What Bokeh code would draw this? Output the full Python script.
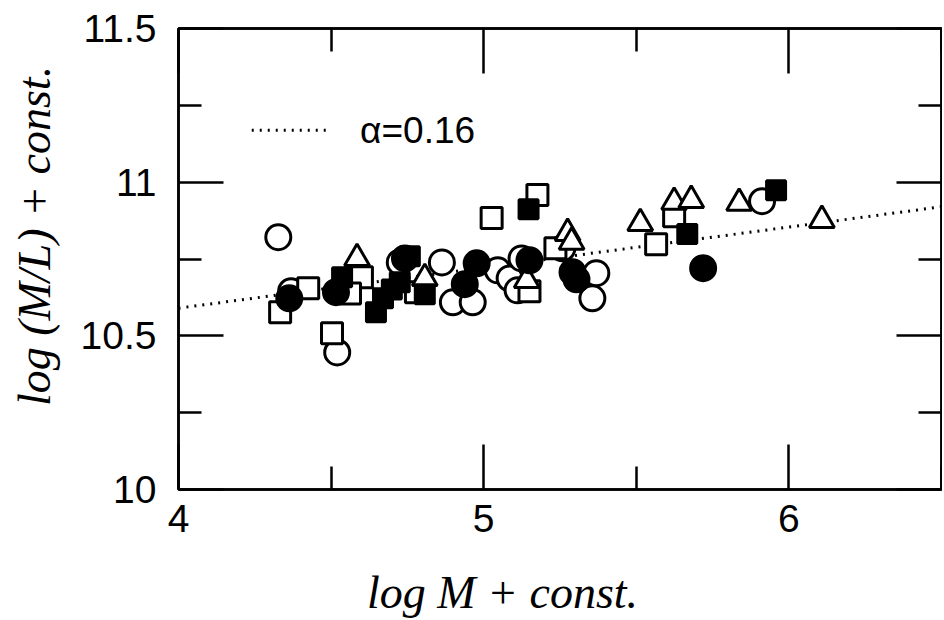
import numpy as np
from bokeh.plotting import figure
from bokeh.models import FixedTicker, LinearAxis, Label, Range1d, CustomJSTickFormatter
from bokeh.embed import file_html
from bokeh.resources import INLINE

# ---- data (log M + const., log(M/L) + const.) ----
open_circle_x = [4.327, 4.369, 4.520, 4.725, 4.863, 4.899, 4.964, 5.046, 5.085, 5.124, 5.111, 5.258, 5.369, 5.356, 5.912]
open_circle_y = [10.821, 10.645, 10.446, 10.739, 10.739, 10.609, 10.609, 10.713, 10.687, 10.752, 10.648, 10.785, 10.704, 10.622, 10.938]

filled_circle_x = [4.363, 4.516, 4.742, 4.938, 4.977, 5.150, 5.291, 5.304, 5.719]
filled_circle_y = [10.622, 10.642, 10.752, 10.668, 10.736, 10.746, 10.707, 10.684, 10.720]

open_square_x = [4.333, 4.425, 4.503, 4.601, 4.562, 4.778, 5.026, 5.176, 5.150, 5.235, 5.565, 5.624]
open_square_y = [10.577, 10.655, 10.508, 10.691, 10.638, 10.642, 10.883, 10.958, 10.645, 10.785, 10.798, 10.889]

filled_square_x = [4.536, 4.647, 4.670, 4.699, 4.725, 4.807, 5.147, 5.667, 5.958, 4.758]
filled_square_y = [10.691, 10.577, 10.622, 10.651, 10.674, 10.635, 10.912, 10.831, 10.974, 10.759]

open_triangle_x = [4.585, 4.807, 5.141, 5.275, 5.288, 5.513, 5.624, 5.680, 5.837, 6.108]
open_triangle_y = [10.752, 10.687, 10.681, 10.834, 10.805, 10.866, 10.935, 10.941, 10.932, 10.876]

fit_x = [4.0, 6.5]
fit_y = [10.59, 10.92]

legend_line_x = [4.24, 4.50]
legend_line_y = [11.169, 11.169]
legend_text = "α=0.16"
legend_text_pos = (4.595, 11.169)

x_ticks = [4, 5, 6]
x_minor = [4.5, 5.5, 6.5]
x_tick_labels = ["4", "5", "6"]
y_ticks = [10, 10.5, 11, 11.5]
y_minor = [10.25, 10.75, 11.25]
y_tick_labels = ["10", "10.5", "11", "11.5"]

x_title = "log M + const."
y_title = "log (M/L) + const."

# ---- figure ----
p = figure(width=942, height=620, x_range=Range1d(4, 6.5), y_range=Range1d(10, 11.5),
           output_backend="svg", toolbar_location=None,
           min_border_left=178, min_border_right=1, min_border_top=28, min_border_bottom=131)
p.background_fill_color = "white"
p.border_fill_color = "white"
p.outline_line_color = "black"
p.outline_line_width = 2.5
p.xgrid.visible = False
p.ygrid.visible = False

TICK_FONT = "Liberation Sans"
NBSP = "\u00a0"

xax = p.below[0]
yax = p.left[0]

def style_axis(ax, ticks, minor, labels, show_labels):
    ax.ticker = FixedTicker(ticks=ticks, minor_ticks=minor)
    ax.major_tick_in = 45
    ax.major_tick_out = 0
    ax.minor_tick_in = 23
    ax.minor_tick_out = 0
    ax.major_tick_line_width = 2.5
    ax.minor_tick_line_width = 2.5
    ax.major_tick_line_color = "black"
    ax.minor_tick_line_color = "black"
    ax.axis_line_color = "black"
    ax.axis_line_width = 2.5
    if show_labels:
        ax.major_label_overrides = {t: l for t, l in zip(ticks, labels)}
        ax.major_label_text_font = TICK_FONT
        ax.major_label_text_font_size = "39px"
        ax.major_label_text_color = "black"
    else:
        ax.formatter = CustomJSTickFormatter(code="return '';")
        ax.major_label_text_font_size = "8px"
        ax.major_label_standoff = 0

style_axis(xax, x_ticks, x_minor, x_tick_labels, True)
style_axis(yax, y_ticks, y_minor, y_tick_labels, True)
xax.major_label_standoff = 15
yax.major_label_standoff = 22

top_ax = LinearAxis()
style_axis(top_ax, x_ticks, x_minor, x_tick_labels, False)
p.add_layout(top_ax, "above")
right_ax = LinearAxis()
style_axis(right_ax, y_ticks, y_minor, y_tick_labels, False)
p.add_layout(right_ax, "right")

# axis titles (non-breaking padding shifts them off-centre like the original)
for ax in (xax, yax):
    ax.axis_label_text_font = "Liberation Serif"
    ax.axis_label_text_font_style = "italic"
    ax.axis_label_text_font_size = "46px"
    ax.axis_label_text_color = "black"
xax.axis_label = x_title + NBSP * 10
xax.axis_label_standoff = 32
yax.axis_label = NBSP * 4 + y_title
yax.axis_label_standoff = 18

# fit line and legend sample
p.line(fit_x, fit_y, line_color="black", line_width=3, line_dash="2 6")
p.line(legend_line_x, legend_line_y, line_color="black", line_width=3, line_dash="2 6")
p.add_layout(Label(x=legend_text_pos[0], y=legend_text_pos[1], text=legend_text,
                   text_font=TICK_FONT, text_font_size="37px", text_baseline="middle",
                   text_align="left", text_color="black"))

LW = 3
p.scatter(open_circle_x, open_circle_y, marker="circle", size=25, fill_color="white",
          line_color="black", line_width=LW)
p.scatter(open_square_x, open_square_y, marker="square", size=21, fill_color="white",
          line_color="black", line_width=LW)
p.scatter(open_triangle_x, open_triangle_y, marker="triangle", size=25, fill_color="white",
          line_color="black", line_width=LW)
p.scatter(filled_square_x, filled_square_y, marker="square", size=19, fill_color="black",
          line_color="black", line_width=LW)
p.scatter(filled_circle_x, filled_circle_y, marker="circle", size=25, fill_color="black",
          line_color="black", line_width=LW)

open("out.html", "w").write(file_html(p, INLINE))
